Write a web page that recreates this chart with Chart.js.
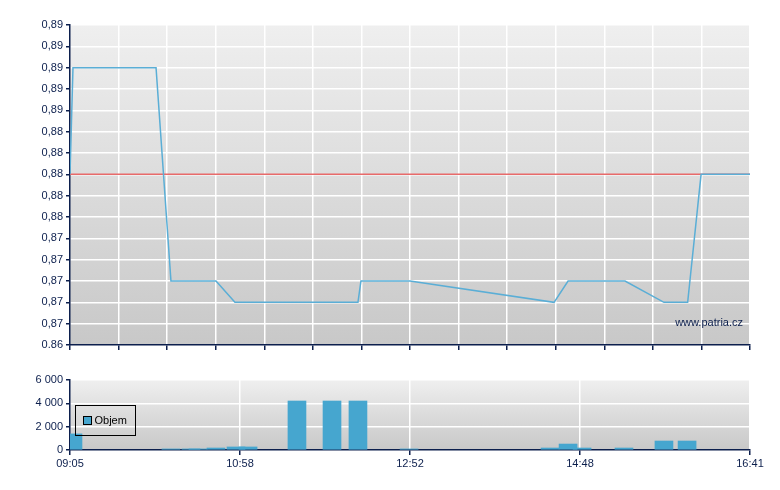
<!DOCTYPE html>
<html>
<head>
<meta charset="utf-8">
<script src="https://cdn.jsdelivr.net/npm/chart.js@4/dist/chart.umd.min.js"></script>
<style>
  body { margin: 0; background: #fff; }
  #wrap { position: relative; width: 780px; height: 490px; }
  #price-box { position: absolute; left: 0; top: 0; width: 780px; height: 360px; }
  #volume-box { position: absolute; left: 0; top: 360px; width: 780px; height: 130px; }
</style>
</head>
<body>
<div id="wrap">
  <div id="price-box"><canvas id="price-chart"></canvas></div>
  <div id="volume-box"><canvas id="volume-chart"></canvas></div>
</div>
<script>
// minutes after 09:05
const sessionLength = 456;
const priceMinutes = [0, 2, 57.7, 67.7, 97.9, 110.6, 193.1, 195.1, 228, 324.6, 334, 372.2, 398.3, 414.2, 423.2, 456];
const priceValues = [0.88, 0.89, 0.89, 0.87, 0.87, 0.868, 0.868, 0.87, 0.87, 0.868, 0.87, 0.87, 0.868, 0.868, 0.88, 0.88];
const prevClose = 0.88;

const volumeMinutes = [2, 67.7, 81.1, 85.8, 97.9, 111.3, 119.4, 152.2, 175.7, 193.1, 227.4, 321.9, 334.0, 343.4, 371.5, 398.3, 413.8];
const volumeValues = [1380, 90, 90, 90, 170, 260, 260, 4200, 4200, 4200, 90, 170, 510, 170, 170, 770, 770];

const priceTicks = [0.864, 0.866, 0.868, 0.870, 0.872, 0.874, 0.876, 0.878, 0.880, 0.882, 0.884, 0.886, 0.888, 0.890, 0.892, 0.894];
const priceTickLabels = ['0.86', '0,87', '0,87', '0,87', '0,87', '0,87', '0,88', '0,88', '0,88', '0,88', '0,88', '0,89', '0,89', '0,89', '0,89', '0,89'];
const volumeTicks = [0, 2000, 4000, 6000];
const volumeTickLabels = ['0', '2 000', '4 000', '6 000'];
const timeTickLabels = ['09:05', '10:58', '12:52', '14:48', '16:41'];

const navy = '#0c1f4d';
const lineBlue = '#5aaed6';
const barBlue = '#46a6cf';
const fontFamily = "'Liberation Sans', Arial, sans-serif";

Chart.defaults.font.family = fontFamily;
Chart.defaults.font.size = 11;
Chart.defaults.color = navy;

const plotBackground = {
    id: 'plotBackground',
    beforeDraw(chart) {
        const a = chart.chartArea;
        const ctx = chart.ctx;
        const g = ctx.createLinearGradient(0, a.top, 0, a.bottom);
        g.addColorStop(0, '#efefef');
        g.addColorStop(1, '#c8c8c8');
        ctx.save();
        ctx.fillStyle = g;
        ctx.fillRect(a.left, a.top, a.right - a.left, a.bottom - a.top);
        ctx.restore();
    }
};

const watermark = {
    id: 'watermark',
    afterDraw(chart) {
        const ctx = chart.ctx;
        ctx.save();
        ctx.font = '11px ' + fontFamily;
        ctx.fillStyle = navy;
        ctx.textAlign = 'right';
        ctx.textBaseline = 'middle';
        ctx.fillText('www.patria.cz', chart.chartArea.right - 7, chart.chartArea.bottom - 22);
        ctx.restore();
    }
};

const boxLegend = {
    id: 'boxLegend',
    afterDraw(chart) {
        const ctx = chart.ctx;
        const ds = chart.data.datasets[0];
        const x = chart.chartArea.left + 5.5;
        const y = 45.5;
        ctx.save();
        ctx.strokeStyle = '#000';
        ctx.lineWidth = 1;
        ctx.strokeRect(x, y, 60, 30);
        ctx.fillStyle = ds.backgroundColor;
        ctx.fillRect(x + 8, y + 11, 8, 8);
        ctx.strokeRect(x + 8, y + 11, 8, 8);
        ctx.font = '11px ' + fontFamily;
        ctx.fillStyle = '#000';
        ctx.textBaseline = 'middle';
        ctx.fillText(ds.label, x + 19, y + 15);
        ctx.restore();
    }
};

function gridColor(c) {
    return c.index === 0 ? 'rgba(0,0,0,0)' : '#ffffff';
}

const priceChart = new Chart(document.getElementById('price-chart'), {
    type: 'line',
    data: {
        datasets: [{
            label: 'Cena',
            data: priceMinutes.map((m, i) => ({ x: m, y: priceValues[i] })),
            borderColor: lineBlue,
            borderWidth: 1.5,
            pointRadius: 0,
            tension: 0
        }, {
            label: 'Předchozí',
            data: [{ x: 0, y: prevClose }, { x: sessionLength, y: prevClose }],
            borderColor: '#e86a6a',
            borderWidth: 1.5,
            pointRadius: 0
        }]
    },
    options: {
        responsive: true,
        maintainAspectRatio: false,
        animation: false,
        layout: { padding: { top: 25, right: 30, left: 0, bottom: 0 } },
        plugins: { legend: { display: false }, tooltip: { enabled: false } },
        scales: {
            x: {
                type: 'linear',
                min: 0,
                max: sessionLength,
                afterBuildTicks: s => {
                    const t = [];
                    for (let i = 0; i <= 14; i++) t.push({ value: i * sessionLength / 14 });
                    s.ticks = t;
                },
                afterFit: s => { s.height = 15; },
                ticks: { display: false },
                grid: { color: gridColor, lineWidth: 1.5, tickColor: navy, tickLength: 5 },
                border: { color: navy, width: 1.5 }
            },
            y: {
                min: priceTicks[0],
                max: priceTicks[priceTicks.length - 1],
                afterBuildTicks: s => { s.ticks = priceTicks.map(v => ({ value: v })); },
                afterFit: s => { s.width = 70; },
                ticks: { padding: 3, callback: (v, i) => priceTickLabels[i] },
                grid: { color: gridColor, lineWidth: 1.5, tickColor: navy, tickLength: 4 },
                border: { color: navy, width: 1.5 }
            }
        }
    },
    plugins: [plotBackground, watermark]
});

const volumeChart = new Chart(document.getElementById('volume-chart'), {
    type: 'bar',
    data: {
        datasets: [{
            label: 'Objem',
            data: volumeMinutes.map((m, i) => ({ x: m, y: volumeValues[i] })),
            backgroundColor: barBlue,
            barThickness: 18
        }]
    },
    options: {
        responsive: true,
        maintainAspectRatio: false,
        animation: false,
        layout: { padding: { top: 20, right: 30, left: 0, bottom: 0 } },
        plugins: { legend: { display: false }, tooltip: { enabled: false } },
        scales: {
            x: {
                type: 'linear',
                offset: false,
                min: 0,
                max: sessionLength,
                afterBuildTicks: s => {
                    s.ticks = timeTickLabels.map((l, i) => ({ value: i * sessionLength / (timeTickLabels.length - 1) }));
                },
                afterFit: s => { s.height = 40; },
                ticks: { padding: 2, maxRotation: 0, autoSkip: false, callback: (v, i) => timeTickLabels[i] },
                grid: { offset: false, color: gridColor, lineWidth: 1.5, tickColor: navy, tickLength: 5 },
                border: { color: navy, width: 1.5 }
            },
            y: {
                min: 0,
                max: 6000,
                afterBuildTicks: s => { s.ticks = volumeTicks.map(v => ({ value: v })); },
                afterFit: s => { s.width = 70; },
                ticks: { padding: 3, callback: (v, i) => volumeTickLabels[i] },
                grid: { color: gridColor, lineWidth: 1.5, tickColor: navy, tickLength: 4 },
                border: { color: navy, width: 1.5 }
            }
        }
    },
    plugins: [plotBackground, boxLegend]
});
</script>
</body>
</html>
